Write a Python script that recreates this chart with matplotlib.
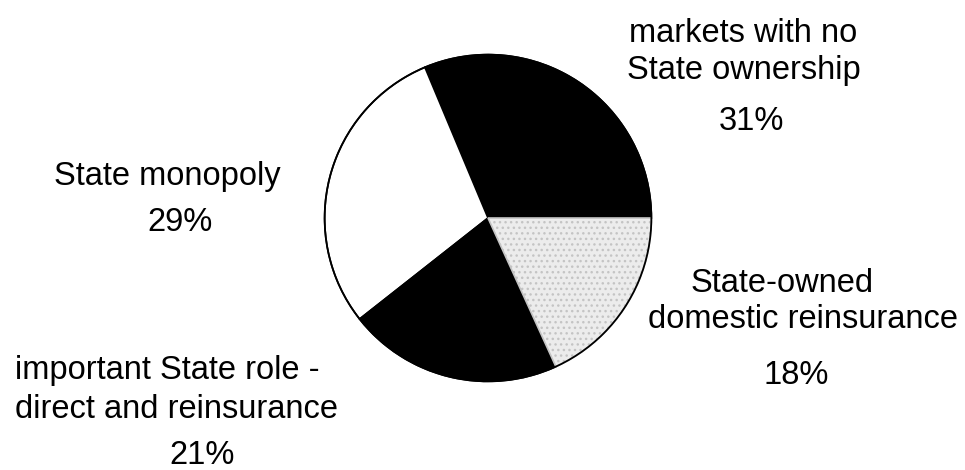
"""Pie chart: State involvement in insurance markets (share of countries)."""
import matplotlib
matplotlib.use("Agg")
import matplotlib.pyplot as plt

# ---------------------------------------------------------------------------
# Data
# ---------------------------------------------------------------------------
categories = [
    "markets with no\nState ownership",
    "State monopoly",
    "important State role -\ndirect and reinsurance",
    "State-owned\ndomestic reinsurance",
]
shares = [31, 29, 21, 18]
colors = ["black", "white", "black", "#ececec"]

# ---------------------------------------------------------------------------
# Layout (pixels in a 965x470 canvas)
# ---------------------------------------------------------------------------
W, H = 965, 470
PIE_CX, PIE_CY, PIE_R = 488, 218, 165

# per-category: list of (x, y, ha) for each text line, then percent position
label_pos = [
    [(743, 33, "center"), (744, 70, "center")],
    [(167, 177, "center")],
    [(15, 371, "left"), (15, 410, "left")],
    [(782, 283, "center"), (803, 320, "center")],
]
pct_pos = [(751, 122), (180, 223), (202, 456), (796, 375)]

plt.rcParams["font.family"] = ["Liberation Sans", "DejaVu Sans"]
FS = 23.5

fig = plt.figure(figsize=(W / 100, H / 100), dpi=100)
ax = fig.add_axes([(PIE_CX - PIE_R) / W, (H - PIE_CY - PIE_R) / H,
                   2 * PIE_R / W, 2 * PIE_R / H])

wedges, _ = ax.pie(shares, colors=colors, startangle=0, counterclock=True,
                   radius=1.0,
                   wedgeprops=dict(edgecolor="black", linewidth=1.2))
# light stipple on the reinsurance slice
wedges[3].set_hatch("...")
wedges[3].set_edgecolor("#c4c4c4")
ax.pie([1], radius=1.0, colors=["none"],
       wedgeprops=dict(edgecolor="black", linewidth=1.3, fill=False))
ax.set_xlim(-1.01, 1.01)
ax.set_ylim(-1.01, 1.01)
ax.set_aspect("equal")
ax.axis("off")


def fx(px):
    return px / W


def fy(py):
    return 1 - py / H


for cat, share, lines_pos, (px, py) in zip(categories, shares, label_pos, pct_pos):
    for line, (x, y, ha) in zip(cat.split("\n"), lines_pos):
        fig.text(fx(x), fy(y), line, ha=ha, va="center", fontsize=FS)
    fig.text(fx(px), fy(py), f"{share}%", ha="center", va="center", fontsize=FS)

fig.savefig("out.png", dpi=100)
